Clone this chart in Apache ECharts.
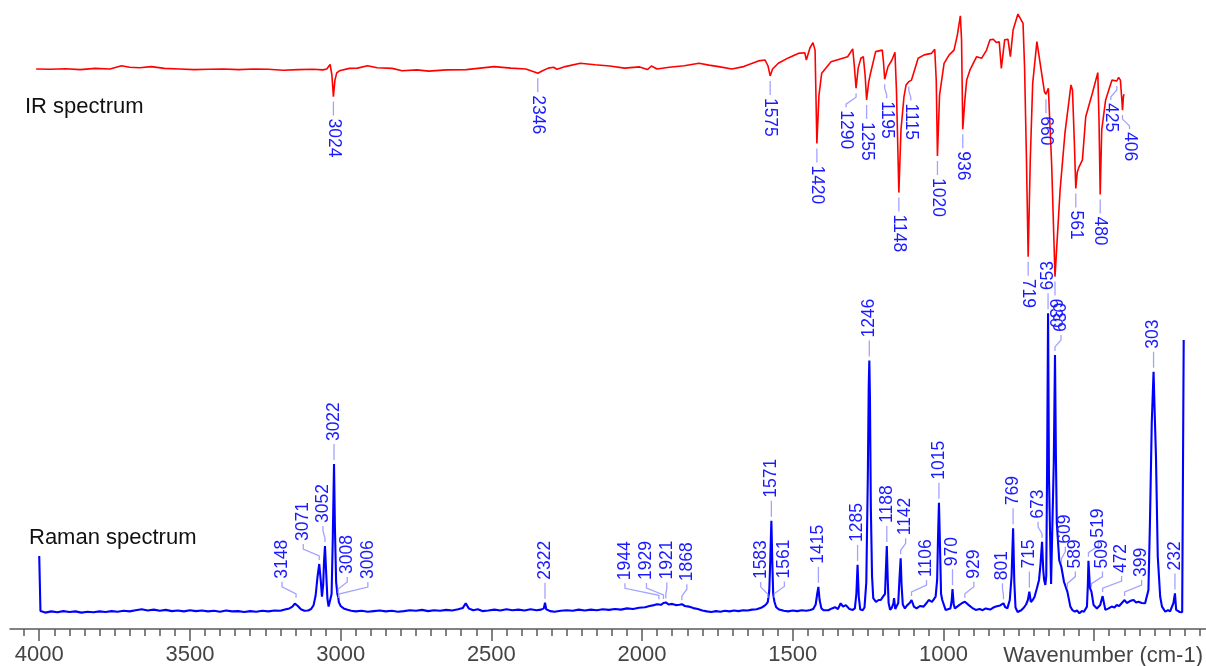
<!DOCTYPE html>
<html>
<head>
<meta charset="utf-8">
<script src="https://cdn.jsdelivr.net/npm/echarts@6/dist/echarts.min.js"></script>
<style>
  html, body { margin: 0; padding: 0; background: #ffffff; }
  #chart { width: 1206px; height: 666px; }
</style>
</head>
<body>
<div id="chart"></div>
<script>
// Wavenumber axis (cm-1): labelled major ticks, minor ticks every 50
const majorTicks = [4000, 3500, 3000, 2500, 2000, 1500, 1000, 500];
const minorTicks = [];
for (let w = 150; w <= 4050; w += 50) {
  if (w % 500 !== 0) minorTicks.push(w);
}

// IR spectrum: [wavenumber, transmittance %]
const irSpectrum = [
  [4010, 77.0], [3962, 76.9], [3913, 77.1], [3864, 76.8], [3814, 77.2], [3765, 77.0],
  [3727, 78.1], [3700, 77.6], [3667, 77.4], [3628, 77.8], [3585, 77.2], [3535, 77.0],
  [3486, 76.8], [3437, 76.9], [3388, 77.0], [3338, 76.8], [3289, 77.0], [3240, 76.9],
  [3191, 76.6], [3141, 76.8], [3092, 76.9], [3059, 76.7], [3054, 76.4], [3046, 77.0],
  [3035, 78.5], [3029, 75.0], [3024, 67.8], [3019, 73.3], [3013, 75.7], [3004, 76.4],
  [2971, 77.2], [2944, 77.3], [2911, 78.1], [2879, 77.4], [2829, 77.2], [2796, 76.4],
  [2747, 76.7], [2708, 76.3], [2649, 76.7], [2583, 76.8], [2491, 77.8], [2435, 77.3],
  [2386, 77.0], [2359, 76.1], [2346, 75.6], [2330, 76.4], [2311, 77.3], [2294, 77.6],
  [2282, 76.9], [2255, 77.8], [2205, 78.9], [2156, 78.4], [2107, 78.0], [2058, 77.3],
  [2008, 77.7], [1982, 76.8], [1969, 78.0], [1950, 77.0], [1910, 77.6], [1860, 78.1],
  [1811, 78.9], [1778, 78.3], [1746, 77.8], [1702, 77.0], [1663, 77.8], [1614, 79.7],
  [1592, 80.0], [1582, 78.0], [1575, 74.7], [1567, 77.0], [1548, 78.9], [1515, 80.7],
  [1482, 82.2], [1460, 82.4], [1455, 80.0], [1443, 84.0], [1433, 85.8], [1426, 83.3],
  [1420, 52.2], [1413, 68.3], [1404, 75.6], [1373, 79.4], [1318, 81.1], [1301, 83.7],
  [1296, 78.3], [1290, 70.6], [1283, 77.3], [1274, 80.6], [1266, 81.1], [1260, 75.0],
  [1255, 66.7], [1248, 72.7], [1242, 75.6], [1225, 82.8], [1203, 83.3], [1199, 79.3],
  [1195, 73.6], [1184, 77.8], [1171, 80.0], [1161, 82.6], [1156, 70.0], [1148, 35.8],
  [1141, 56.7], [1131, 67.8], [1124, 71.7], [1115, 72.8], [1106, 73.3], [1084, 80.6],
  [1064, 81.7], [1040, 82.2], [1029, 83.6], [1024, 73.3], [1020, 48.0], [1013, 68.3],
  [998, 78.9], [981, 81.7], [965, 83.3], [954, 88.3], [944, 94.7], [940, 86.7],
  [936, 56.9], [929, 66.7], [923, 73.3], [912, 76.7], [890, 81.1], [873, 80.6],
  [857, 83.3], [846, 86.7], [835, 86.9], [824, 85.8], [815, 86.1], [808, 77.2],
  [797, 86.7], [786, 86.9], [778, 81.1], [769, 90.0], [753, 95.3], [736, 92.2],
  [731, 77.8], [725, 48.7], [719, 14.4], [712, 46.7], [704, 72.2], [690, 86.1],
  [676, 76.7], [665, 69.4], [660, 68.6], [652, 70.6], [648, 70.0], [641, 45.0],
  [630, 7.8], [613, 36.7], [597, 55.6], [577, 71.7], [572, 70.0], [566, 53.3],
  [561, 37.2], [556, 42.7], [550, 44.4], [539, 46.7], [528, 61.1], [506, 68.9],
  [488, 75.8], [484, 60.0], [480, 35.2], [475, 56.7], [462, 66.7], [441, 73.3],
  [436, 73.9], [425, 73.0], [419, 74.2], [416, 74.4], [413, 73.3], [409, 67.8],
  [406, 63.3], [403, 67.8], [401, 68.6]
];

// Raman spectrum: [wavenumber, intensity]
const ramanSpectrum = [
  [4000, 18.7], [3996, 0.3], [3980, -0.2], [3960, 0.2], [3940, -0.1], [3920, 0.3],
  [3900, 0.0], [3880, 0.2], [3860, -0.2], [3840, 0.1], [3820, -0.1], [3800, 0.2],
  [3780, 0.0], [3760, 0.3], [3740, 0.1], [3720, 0.4], [3700, 0.2], [3680, 0.6],
  [3660, 0.9], [3640, 0.5], [3620, 0.8], [3600, 0.4], [3580, 0.7], [3560, 0.3],
  [3540, 0.5], [3520, 0.2], [3500, 0.6], [3480, 0.3], [3460, 0.5], [3440, 0.2],
  [3420, 0.4], [3400, 0.1], [3380, 0.5], [3360, 0.2], [3340, 0.3], [3320, 0.0],
  [3300, 0.3], [3280, 0.1], [3260, 0.4], [3240, 0.2], [3220, 0.5], [3200, 0.4],
  [3185, 0.8], [3170, 1.2], [3160, 1.8], [3152, 2.8], [3148, 3.4], [3142, 2.0],
  [3132, 0.9], [3120, 0.4], [3108, 0.5], [3098, 1.0], [3090, 2.2], [3083, 5.5],
  [3077, 11.5], [3071, 16.0], [3066, 10.5], [3062, 5.1], [3058, 9.0], [3055, 17.0],
  [3052, 22.0], [3048, 13.0], [3044, 4.5], [3040, 1.8], [3035, 2.2], [3030, 6.0],
  [3026, 25.0], [3022, 49.3], [3019, 28.0], [3015, 10.0], [3011, 6.0], [3008, 5.0],
  [3006, 3.3], [3000, 2.0], [2990, 1.2], [2980, 0.8], [2965, 0.4], [2950, 0.2],
  [2930, 0.4], [2910, 0.1], [2890, 0.3], [2870, 0.5], [2850, 0.2], [2830, 0.4],
  [2810, 0.1], [2790, 0.3], [2770, 0.6], [2750, 0.4], [2730, 0.7], [2710, 0.3],
  [2690, 0.6], [2670, 0.4], [2650, 0.7], [2630, 0.5], [2610, 0.9], [2595, 1.3],
  [2585, 2.9], [2575, 1.2], [2560, 0.6], [2545, 0.9], [2530, 0.3], [2510, 0.5],
  [2490, 0.8], [2470, 0.5], [2450, 0.9], [2430, 0.6], [2410, 0.8], [2390, 0.5],
  [2370, 0.9], [2350, 0.6], [2335, 0.8], [2326, 1.2], [2322, 3.1], [2318, 0.9],
  [2305, 0.3], [2290, 0.1], [2270, 0.4], [2250, 0.6], [2230, 0.4], [2210, 0.8],
  [2190, 0.5], [2170, 0.8], [2150, 0.6], [2130, 0.9], [2110, 0.7], [2090, 1.0],
  [2070, 0.8], [2050, 1.2], [2030, 1.0], [2010, 1.4], [1990, 1.6], [1975, 2.0],
  [1960, 2.3], [1950, 2.6], [1944, 2.9], [1937, 2.4], [1929, 3.0], [1925, 2.6],
  [1921, 3.2], [1912, 2.5], [1900, 2.7], [1888, 2.3], [1876, 2.4], [1868, 2.6],
  [1858, 2.0], [1845, 1.8], [1830, 1.3], [1815, 1.0], [1800, 0.5], [1785, 0.2],
  [1770, 0.0], [1755, 0.3], [1740, 0.1], [1725, 0.4], [1710, 0.2], [1695, 0.5],
  [1680, 0.3], [1665, 0.6], [1650, 0.5], [1635, 0.8], [1620, 0.9], [1605, 1.4],
  [1595, 2.0], [1588, 2.6], [1583, 3.3], [1578, 7.0], [1575, 16.0], [1571, 30.4],
  [1568, 17.0], [1565, 6.0], [1561, 3.5], [1555, 1.6], [1545, 0.8], [1530, 0.4],
  [1515, 0.2], [1500, 0.5], [1485, 0.3], [1470, 0.6], [1455, 0.4], [1442, 0.7],
  [1432, 1.0], [1424, 2.5], [1419, 6.0], [1415, 8.4], [1411, 4.0], [1405, 1.2],
  [1398, 0.6], [1392, 1.0], [1382, 0.6], [1370, 1.2], [1360, 1.6], [1350, 1.0],
  [1341, 2.9], [1333, 1.8], [1324, 2.3], [1312, 1.0], [1301, 0.7], [1294, 1.2],
  [1289, 6.0], [1285, 15.7], [1281, 5.0], [1276, 0.8], [1268, 0.6], [1262, 1.5],
  [1256, 10.0], [1251, 45.0], [1248, 75.0], [1246, 83.8], [1244, 72.0], [1241, 35.0],
  [1237, 12.0], [1233, 4.6], [1224, 3.4], [1215, 4.0], [1208, 4.0], [1200, 5.2],
  [1194, 6.0], [1191, 14.0], [1188, 22.0], [1185, 11.0], [1182, 3.0], [1177, 0.7],
  [1171, 1.5], [1166, 3.0], [1164, 4.6], [1160, 1.0], [1155, 0.7], [1150, 3.0],
  [1146, 11.0], [1142, 17.9], [1139, 9.0], [1135, 2.5], [1128, 1.2], [1120, 2.3],
  [1112, 3.0], [1106, 4.0], [1098, 1.8], [1089, 1.2], [1078, 2.0], [1066, 1.8],
  [1056, 3.0], [1049, 4.0], [1038, 3.4], [1026, 5.1], [1021, 10.7], [1018, 25.0],
  [1015, 36.4], [1012, 24.0], [1008, 6.0], [1004, 4.0], [993, 0.7], [977, 1.2],
  [973, 3.5], [970, 7.6], [966, 2.5], [962, 1.2], [948, 2.3], [938, 3.0],
  [929, 3.4], [916, 2.3], [905, 1.4], [893, 0.7], [880, 1.0], [870, 0.6],
  [860, 1.2], [845, 0.8], [836, 1.4], [826, 1.8], [812, 2.2], [801, 2.9],
  [795, 1.6], [788, 1.2], [780, 4.0], [774, 12.0], [769, 27.9], [765, 10.0],
  [761, 1.5], [754, 0.0], [742, 0.6], [733, 1.5], [726, 2.5], [720, 4.0],
  [715, 6.8], [710, 3.3], [704, 4.0], [698, 5.0], [690, 7.9], [683, 10.7],
  [678, 16.0], [673, 23.4], [669, 14.0], [666, 10.7], [662, 9.0], [659, 12.0],
  [656, 50.0], [653, 99.6], [650, 45.0], [643, 9.3], [638, 9.6], [634, 50.0],
  [630, 85.7], [627, 52.0], [624, 29.7], [616, 17.3], [609, 15.1], [600, 10.0],
  [589, 6.8], [579, 1.8], [572, 0.6], [564, 0.1], [557, 0.5], [549, -0.4],
  [541, 0.3], [534, 0.1], [524, 1.8], [521, 9.0], [519, 17.1], [514, 8.0],
  [509, 6.8], [502, 2.3], [491, 1.2], [480, 2.3], [472, 5.3], [463, 0.7],
  [452, 1.2], [442, 1.8], [433, 1.5], [425, 2.3], [417, 2.0], [409, 2.9],
  [404, 3.3], [399, 4.0], [392, 3.0], [386, 3.4], [378, 3.8], [369, 4.0],
  [361, 3.2], [353, 3.4], [342, 3.0], [331, 2.9], [320, 7.3], [315, 29.7],
  [309, 62.9], [303, 80.1], [300, 69.0], [295, 51.8], [289, 18.4], [281, 5.1],
  [275, 1.8], [264, 0.1], [255, 0.6], [248, 0.2], [243, 0.7], [237, 3.0],
  [232, 6.2], [228, 0.7], [222, 0.3], [216, 0.0], [208, -0.1], [203, 90.7]
];

// Peaks that carry a wavenumber label
const irPeakLabels = [3024, 2346, 1575, 1420, 1290, 1255, 1195, 1148, 1115, 1020, 936,
  719, 660, 630, 561, 480, 425, 406];
const ramanPeakLabels = [3148, 3071, 3052, 3022, 3008, 3006, 2322, 1944, 1929, 1921,
  1868, 1583, 1571, 1561, 1415, 1285, 1246, 1188, 1142, 1106, 1015, 970, 929, 801,
  769, 715, 673, 653, 630, 609, 589, 519, 509, 472, 399, 303, 232];

// Sideways nudges (px) that keep crowded peak labels apart
const irLabelNudge = { 1290: -10, 1195: 2, 1115: 2, 425: -6, 406: 7 };
const ramanLabelNudge = {
  3148: -14, 3071: -16, 3052: -2, 3008: 9, 3006: 29, 1944: -34, 1929: -17, 1921: 1,
  1868: 5, 1583: -7, 1561: 10, 1142: 5, 1106: 15, 929: 9, 801: -1, 673: -4, 630: 6,
  609: 4, 589: 8, 519: 10, 509: 11, 472: 19, 399: 17
};

const FONT = '"Liberation Sans", Arial, Helvetica, sans-serif';
const LABEL_BLUE = '#1a1aff';
const LEADER_BLUE = '#a3a3ff';

function peakPoints(spectrum, labels) {
  const lookup = new Map(spectrum.map(p => [p[0], p[1]]));
  return labels.map(w => [w, lookup.get(w)]);
}

// dir = +1: label hangs below a dip; dir = -1: label stands above a peak
function labelRenderer(dir, nudges) {
  return function (params, api) {
    const wn = api.value(0);
    const p = api.coord([wn, api.value(1)]);
    const dx = nudges[wn] || 0;
    const x = p[0], y = p[1];
    const y0 = y + dir * (dir > 0 ? 5 : 4);
    const y1 = y + dir * (dir > 0 ? 19 : 20);
    const ty = y + dir * (dir > 0 ? 22 : 23);
    const pts = dx === 0
      ? [[x, y0], [x, y1]]
      : [[x, y0], [x, y0 + dir * 4], [x + dx, y0 + dir * 11], [x + dx, y1]];
    return {
      type: 'group',
      children: [
        {
          type: 'polyline',
          shape: { points: pts },
          style: { stroke: LEADER_BLUE, lineWidth: 1.3, fill: null }
        },
        {
          type: 'text',
          x: x + dx,
          y: ty,
          rotation: dir > 0 ? -Math.PI / 2 : Math.PI / 2,
          style: {
            text: String(wn),
            fill: LABEL_BLUE,
            fontSize: 17.5,
            fontFamily: FONT,
            align: 'left',
            verticalAlign: 'middle'
          }
        }
      ]
    };
  };
}

const chart = echarts.init(document.getElementById('chart'), null, { renderer: 'canvas' });

const axisColor = '#5a5a5a';

chart.setOption({
  animation: false,
  backgroundColor: '#ffffff',
  grid: { left: 10, right: 0, top: 0, bottom: 37, containLabel: false, outerBoundsMode: 'none' },
  xAxis: [
    {
      type: 'value',
      inverse: true,
      min: 129,
      max: 4097,
      position: 'bottom',
      axisLine: { show: true, onZero: false, lineStyle: { color: axisColor, width: 1.5 } },
      axisTick: { show: true, length: 12, customValues: majorTicks, lineStyle: { color: axisColor, width: 1.5 } },
      axisLabel: {
        customValues: majorTicks,
        formatter: v => (v === 500 ? '' : String(v)),
        fontSize: 22,
        fontFamily: FONT,
        color: '#444444',
        margin: 15
      },
      splitLine: { show: false }
    },
    {
      type: 'value',
      inverse: true,
      min: 129,
      max: 4097,
      position: 'bottom',
      axisLine: { show: false, onZero: false },
      axisTick: { show: true, length: 7, customValues: minorTicks, lineStyle: { color: axisColor, width: 1.5 } },
      axisLabel: { show: false },
      splitLine: { show: false }
    }
  ],
  yAxis: [
    { type: 'value', min: -17 / 3, max: 204, show: false, splitLine: { show: false } },
    { type: 'value', min: -329 / 3, max: 100, show: false, splitLine: { show: false } }
  ],
  graphic: [
    {
      type: 'text', left: 25, top: 96,
      style: { text: 'IR spectrum', font: '22px ' + FONT, fill: '#111111' }
    },
    {
      type: 'text', left: 29, top: 527,
      style: { text: 'Raman spectrum', font: '22px ' + FONT, fill: '#111111' }
    },
    {
      type: 'text', right: 3, top: 645,
      style: { text: 'Wavenumber (cm-1)', font: '22px ' + FONT, fill: '#444444' }
    }
  ],
  series: [
    {
      name: 'Raman spectrum',
      type: 'line',
      xAxisIndex: 0,
      yAxisIndex: 0,
      data: ramanSpectrum,
      showSymbol: false,
      lineStyle: { color: '#0000ff', width: 2.1 },
      silent: true,
      z: 3
    },
    {
      name: 'IR spectrum',
      type: 'line',
      xAxisIndex: 0,
      yAxisIndex: 1,
      data: irSpectrum,
      showSymbol: false,
      lineStyle: { color: '#ff0000', width: 1.6 },
      silent: true,
      z: 3
    },
    {
      name: 'IR peak labels',
      type: 'custom',
      xAxisIndex: 0,
      yAxisIndex: 1,
      data: peakPoints(irSpectrum, irPeakLabels),
      renderItem: labelRenderer(1, irLabelNudge),
      silent: true,
      z: 4
    },
    {
      name: 'Raman peak labels',
      type: 'custom',
      xAxisIndex: 0,
      yAxisIndex: 0,
      data: peakPoints(ramanSpectrum, ramanPeakLabels),
      renderItem: labelRenderer(-1, ramanLabelNudge),
      silent: true,
      z: 4
    }
  ]
});
</script>
</body>
</html>
